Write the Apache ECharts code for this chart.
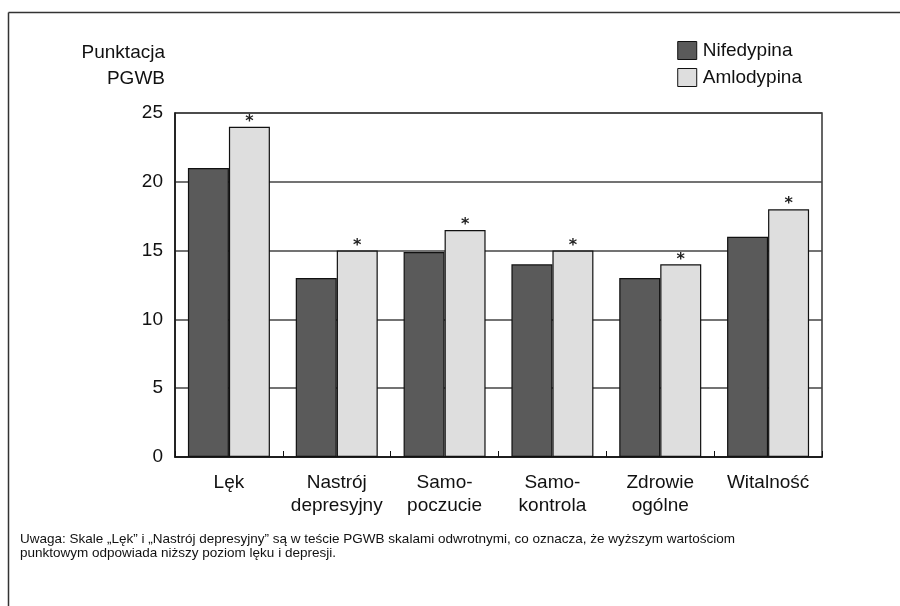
<!DOCTYPE html>
<html><head><meta charset="utf-8">
<script src="https://cdn.jsdelivr.net/npm/echarts@6/dist/echarts.min.js"></script>
<style>html,body{margin:0;padding:0;background:#fff}#c{width:900px;height:606px}</style>
</head><body><div id="c"></div>
<script>
const categories = ['Lęk', 'Nastrój\ndepresyjny', 'Samo-\npoczucie', 'Samo-\nkontrola', 'Zdrowie\nogólne', 'Witalność'];
const nifedypina = [21, 13, 14.9, 14, 13, 16];
const amlodypina = [24, 15, 16.5, 15, 14, 18];
const yTicks = [0, 5, 10, 15, 20, 25];
const FONT = '"Liberation Sans", sans-serif';
const chart = echarts.init(document.getElementById('c'), null, {renderer: 'canvas'});
chart.setOption({
  animation: false,
  backgroundColor: '#fff',
  textStyle: {fontFamily: FONT},
  grid: {left: 175, top: 113, width: 647, height: 344, show: true, borderColor: '#333', borderWidth: 1.5, backgroundColor: 'transparent'},
  legend: {
    right: 93, top: 36, orient: 'vertical', icon: 'rect', itemWidth: 19, itemHeight: 18, itemGap: 8,
    textStyle: {fontFamily: FONT, fontSize: 19, color: '#111', padding: [0, 0, 0, 1]},
    itemStyle: {borderColor: '#111', borderWidth: 1},
    data: ['Nifedypina', 'Amlodypina']
  },
  xAxis: {
    type: 'category', data: categories,
    axisLine: {lineStyle: {color: '#111', width: 1.5}},
    axisTick: {show: true, inside: true, interval: 0, length: 6, lineStyle: {color: '#111'}},
    axisLabel: {interval: 0, fontFamily: FONT, fontSize: 19, color: '#111', margin: 14, lineHeight: 23}
  },
  yAxis: {
    type: 'value', min: 0, max: 25, interval: 5,
    axisLine: {show: true, lineStyle: {color: '#111', width: 1.5}},
    axisTick: {show: false},
    splitLine: {lineStyle: {color: '#444', width: 1.5}},
    axisLabel: {fontFamily: FONT, fontSize: 19, color: '#111', margin: 12,
      formatter: v => yTicks.includes(v) ? String(v) : ''}
  },
  series: [
    {name: 'Nifedypina', type: 'bar', data: nifedypina, barWidth: 41, barGap: '0%',
      itemStyle: {color: '#5a5a5a', borderColor: '#111', borderWidth: 1.2}},
    {name: 'Amlodypina', type: 'bar', data: amlodypina, barWidth: 41,
      itemStyle: {color: '#dedede', borderColor: '#111', borderWidth: 1.2},
      label: {show: true, position: 'top', formatter: '*', fontFamily: 'DejaVu Sans', fontWeight: 'bold', fontSize: 16, color: '#222', distance: -3}}
  ],
  graphic: [
    {type: 'line', shape: {x1: 8.5, y1: 12.5, x2: 900, y2: 12.5}, style: {stroke: '#333', lineWidth: 1.5}},
    {type: 'line', shape: {x1: 8.5, y1: 12.5, x2: 8.5, y2: 606}, style: {stroke: '#333', lineWidth: 1.5}},
    {type: 'text', x: 165, y: 40, style: {text: 'Punktacja\nPGWB', align: 'right', verticalAlign: 'top', fontFamily: FONT, fontSize: 19, lineHeight: 26, fill: '#111'}},
    {type: 'text', x: 20, y: 532, style: {text: 'Uwaga: Skale „Lęk” i „Nastrój depresyjny” są w teście PGWB skalami odwrotnymi, co oznacza, że wyższym wartościom\npunktowym odpowiada niższy poziom lęku i depresji.', verticalAlign: 'top', fontFamily: FONT, fontSize: 13.5, lineHeight: 14.5, fill: '#111'}}
  ]
});
</script></body></html>
